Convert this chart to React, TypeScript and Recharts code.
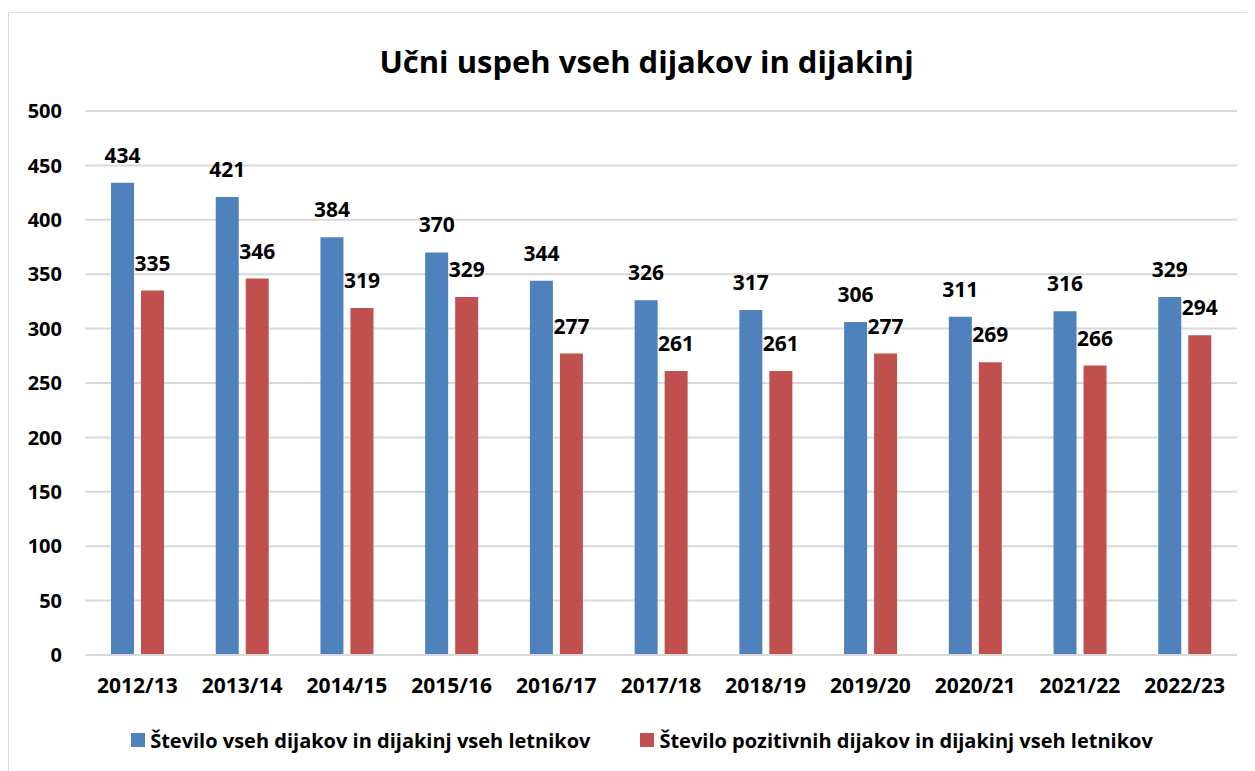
import React from "react";
import { BarChart, Bar, XAxis, YAxis, CartesianGrid, Legend, LabelList } from "recharts";

const years = [
  "2012/13",
  "2013/14",
  "2014/15",
  "2015/16",
  "2016/17",
  "2017/18",
  "2018/19",
  "2019/20",
  "2020/21",
  "2021/22",
  "2022/23",
];
const allStudents = [434, 421, 384, 370, 344, 326, 317, 306, 311, 316, 329];
const passedStudents = [335, 346, 319, 329, 277, 261, 261, 277, 269, 266, 294];
const yTicks = [0, 50, 100, 150, 200, 250, 300, 350, 400, 450, 500];

const TITLE = "Učni uspeh vseh dijakov in dijakinj";
const NAME_ALL = "Število vseh dijakov in dijakinj vseh letnikov";
const NAME_PASSED = "Število pozitivnih dijakov in dijakinj vseh letnikov";

const BLUE = "#4F81BD";
const RED = "#C0504D";
const FONT = "'Open Sans', sans-serif";

const data = years.map((year, i) => ({
  year,
  all: allStudents[i],
  passed: passedStudents[i],
}));

function LegendContent() {
  const items = [
    { name: NAME_ALL, color: BLUE },
    { name: NAME_PASSED, color: RED },
  ];
  return (
    <div
      style={{
        display: "flex",
        justifyContent: "center",
        alignItems: "center",
        gap: 50,
        height: 50,
        fontFamily: FONT,
        fontWeight: 700,
        fontSize: 20,
        color: "#000",
        paddingLeft: 38,
      }}
    >
      {items.map((it) => (
        <div key={it.name} style={{ display: "flex", alignItems: "center" }}>
          <span
            style={{
              width: 14,
              height: 14,
              background: it.color,
              display: "inline-block",
              marginRight: 5,
            }}
          />
          <span>{it.name}</span>
        </div>
      ))}
    </div>
  );
}

export default function App() {
  return (
    <div
      style={{
        position: "relative",
        marginTop: 4,
        width: 1245,
        height: 770,
        border: "1px solid #d9d9d9",
        background: "#fff",
      }}
    >
      <div
        style={{
          position: "absolute",
          top: 27,
          left: 0,
          width: "100%",
          paddingLeft: 30,
          boxSizing: "border-box",
          textAlign: "center",
          fontFamily: FONT,
          fontWeight: 700,
          fontSize: 31,
          color: "#000",
        }}
      >
        {TITLE}
      </div>
      <BarChart
        width={1245}
        height={758}
        data={data}
        margin={{ top: 98, right: 17, bottom: 6, left: 0 }}
        barGap={7}
        barSize={23}
      >
        <CartesianGrid vertical={false} stroke="#d9d9d9" strokeWidth={2} />
        <XAxis
          dataKey="year"
          height={60}
          tickLine={false}
          tickSize={0}
          tickMargin={23}
          axisLine={{ stroke: "#d9d9d9", strokeWidth: 2 }}
          tick={{ fill: "#000", fontFamily: FONT, fontWeight: 700, fontSize: 21 }}
        />
        <YAxis
          width={76}
          domain={[0, 500]}
          ticks={yTicks}
          tickLine={false}
          axisLine={false}
          tickSize={0}
          tickMargin={23}
          tick={{ fill: "#000", fontFamily: FONT, fontWeight: 700, fontSize: 20 }}
        />
        <Legend verticalAlign="bottom" content={<LegendContent />} />
        <Bar dataKey="all" name={NAME_ALL} fill={BLUE} isAnimationActive={false}>
          <LabelList
            dataKey="all"
            position="top"
            offset={20}
            fill="#000"
            style={{ fontFamily: FONT, fontWeight: 700, fontSize: 21 }}
          />
        </Bar>
        <Bar dataKey="passed" name={NAME_PASSED} fill={RED} isAnimationActive={false}>
          <LabelList
            dataKey="passed"
            position="top"
            offset={20}
            fill="#000"
            style={{ fontFamily: FONT, fontWeight: 700, fontSize: 21 }}
          />
        </Bar>
      </BarChart>
    </div>
  );
}
